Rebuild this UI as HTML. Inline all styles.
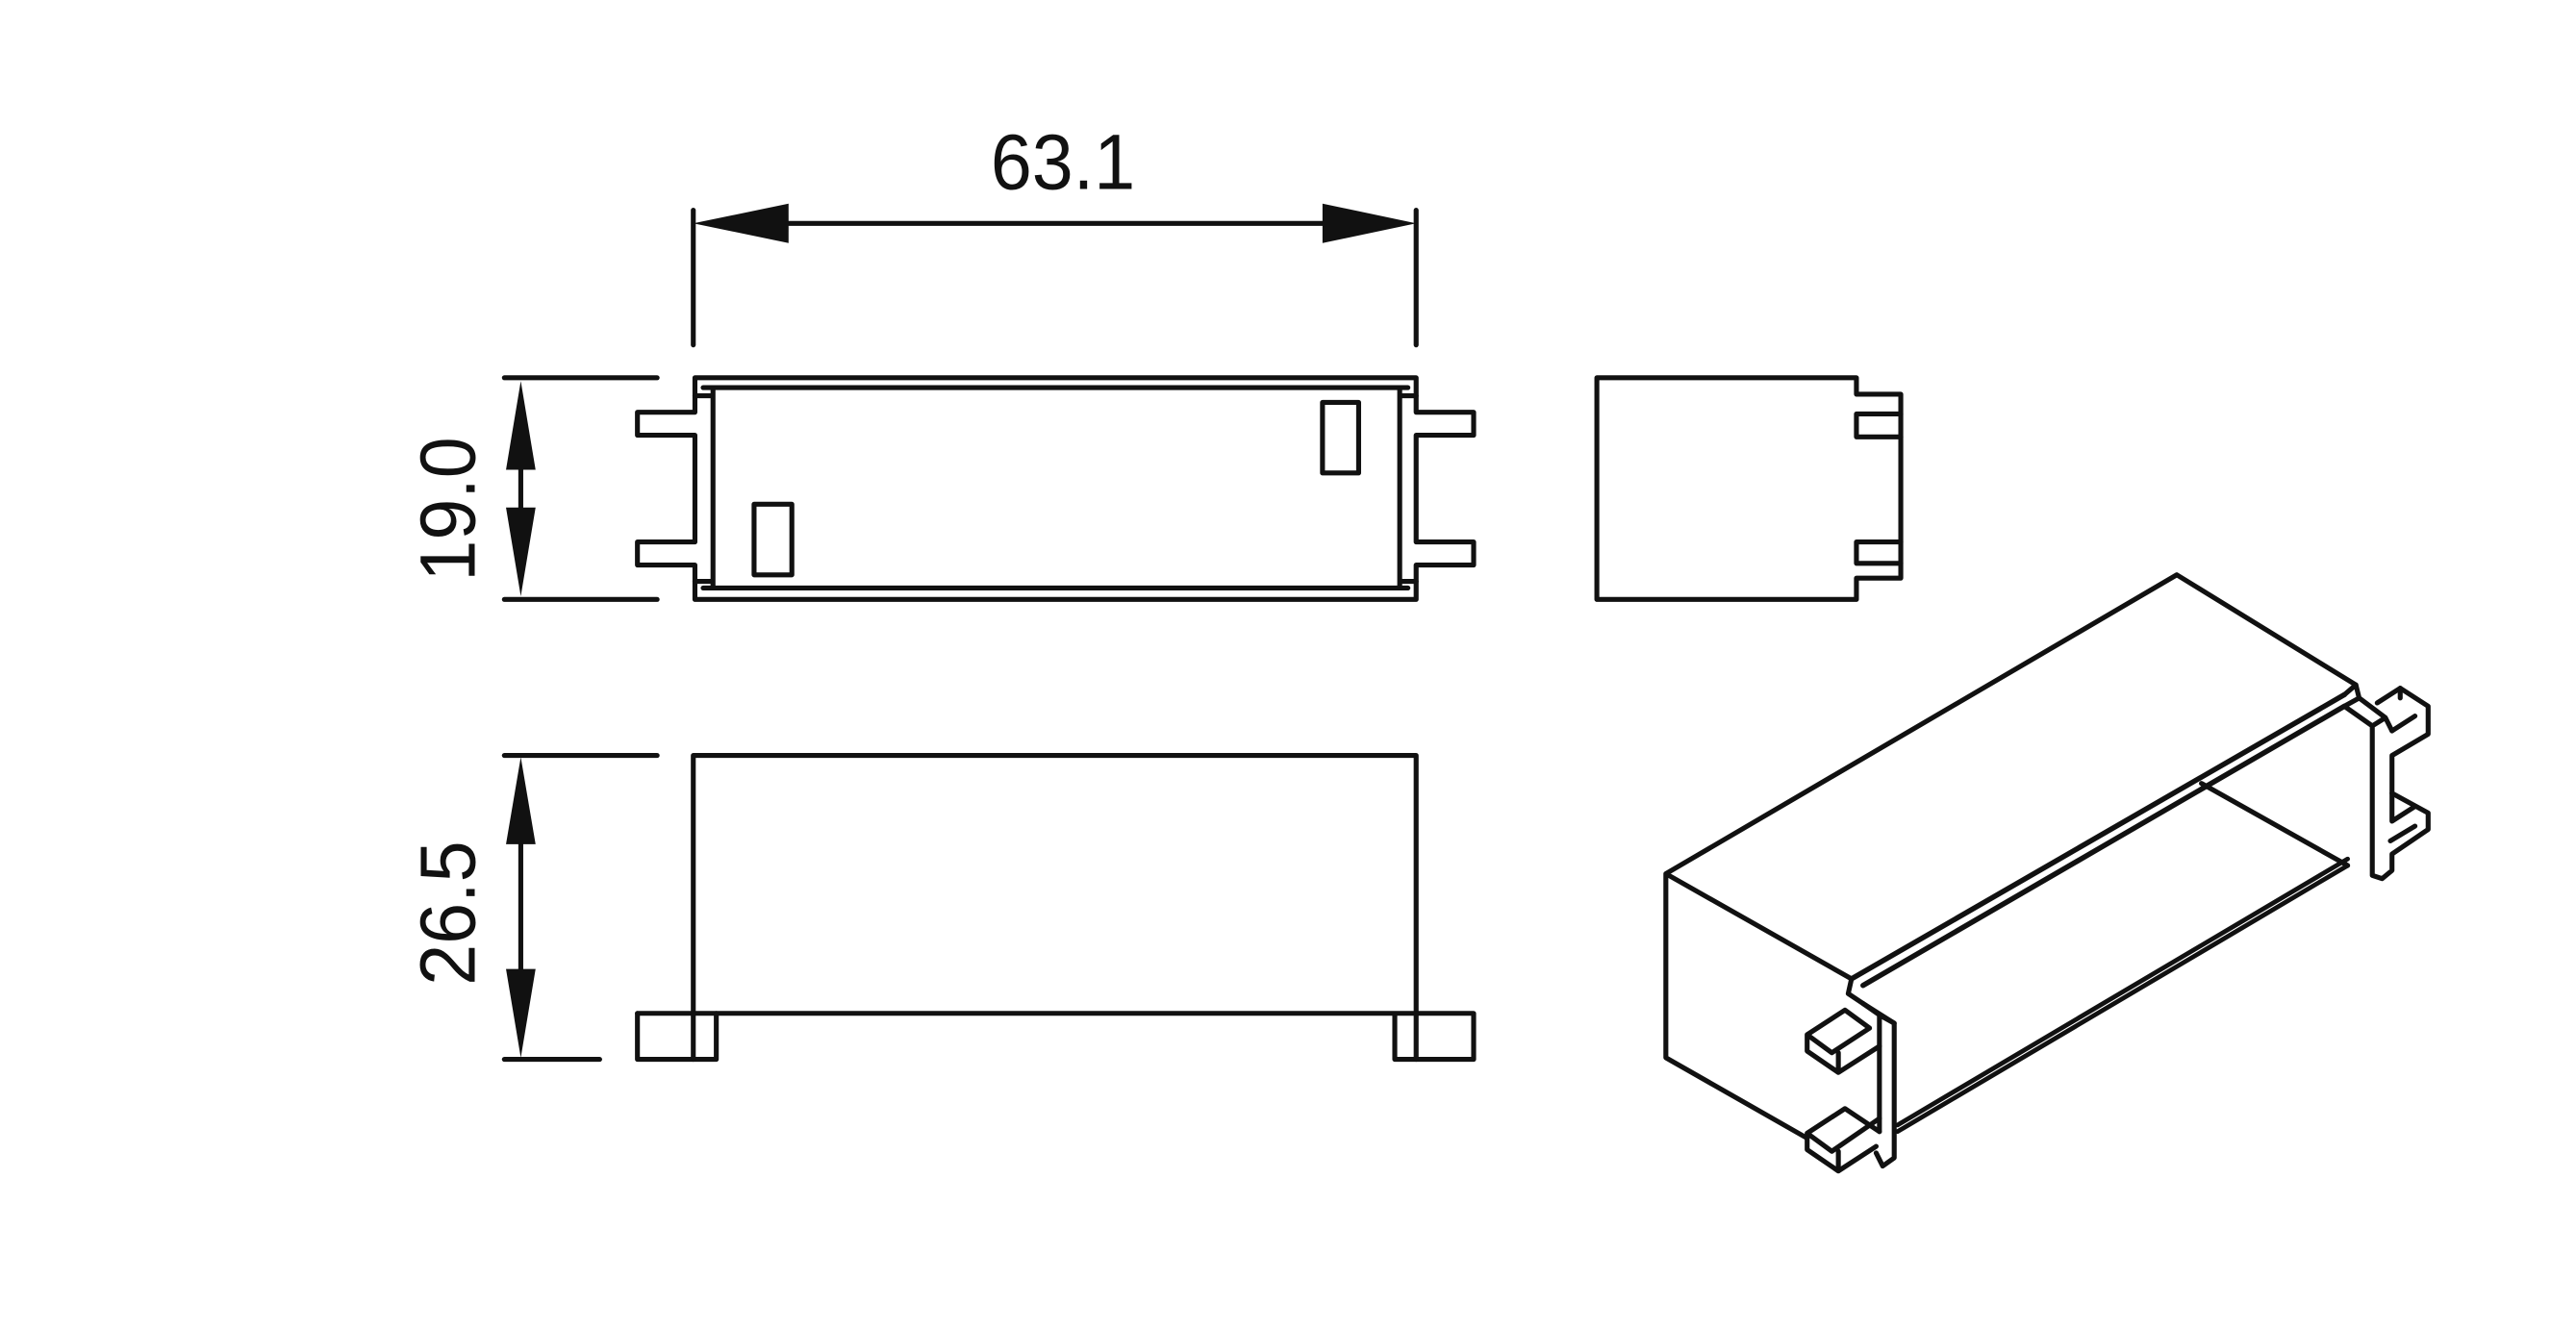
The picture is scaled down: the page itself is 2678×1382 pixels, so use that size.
<!DOCTYPE html>
<html><head><meta charset="utf-8"><style>
html,body{margin:0;padding:0;background:#fff;width:2678px;height:1382px;overflow:hidden}
svg{display:block}
text{font-family:"Liberation Sans",sans-serif;fill:#111}
</style></head><body>
<svg width="2678" height="1382" viewBox="0 0 1568 809.2" preserveAspectRatio="none">
<g fill="none" stroke="#111" stroke-width="3" stroke-linejoin="round" stroke-linecap="round">
<!-- 63.1 dimension -->
<line x1="422" y1="128" x2="422" y2="210"/>
<line x1="862" y1="128" x2="862" y2="210"/>
<line x1="470" y1="136" x2="815" y2="136"/>
<!-- 19.0 dimension -->
<line x1="307" y1="230" x2="400" y2="230"/>
<line x1="307" y1="365" x2="400" y2="365"/>
<line x1="317" y1="280" x2="317" y2="315"/>
<!-- 26.5 dimension -->
<line x1="307" y1="460" x2="400" y2="460"/>
<line x1="307" y1="645" x2="365" y2="645"/>
<line x1="317" y1="500" x2="317" y2="600"/>
<!-- top view -->
<path d="M423 230 H862 V251 H897 V265 H862 V330 H897 V344 H862 V365 H423 V344 H388 V330 H423 V265 H388 V251 H423 Z"/>
<path d="M428 236 H857 M428 358 H857 M434 236 V358 M852 236 V358 M423 241 H434 M423 354 H434 M852 241 H862 M852 354 H862"/>
<rect x="459" y="307" width="23" height="43"/>
<rect x="805" y="245" width="22" height="43"/>
<!-- side view -->
<path d="M972 230 H1130 V240 H1157 V352 H1130 V365 H972 Z"/>
<path d="M1157 252 H1130 V266 H1157 M1157 330 H1130 V343 H1157"/>
<!-- front view -->
<path d="M422 617 V460 H862 V617"/>
<path d="M388 617 H897 V645 H849 V617 M849 645 V617"/>
<path d="M388 617 V645 H436 V617"/>
<path d="M422 617 V645 M862 617 V645"/>
<!-- iso view -->
<path d="M1014 532 L1325 350 L1434 417 M1014 532 L1127 596 M1014 532 V644 L1100 693"/>
<path d="M1127 596 L1427 423 M1134 600 L1427 430" stroke-width="3.2"/>
<path d="M1155 689 L1429 527 M1155 685 L1429 523" stroke-width="2.8"/>
<path d="M1340 477 L1429 527"/>
<!-- front clip -->
<path d="M1127 596 L1125 605 L1134 611 L1153 623 V705 L1146 710 L1142 702"/>
<path d="M1134 611 L1144 618 L1144 640 M1144 640 V689 M1144 618 L1153 623"/>
<path d="M1100 630 L1123 615 L1138 626 L1115 641 Z M1100 630 V640 L1119 653 V641 M1119 653 L1144 637"/>
<path d="M1100 690 L1123 675 L1144 689 M1100 690 L1115 701 L1144 681 M1100 690 V700 L1119 713 L1142 698 M1119 713 V701"/>
<!-- back clip -->
<path d="M1427 423 L1434 417 L1436 425 L1427 430 M1427 430 L1444 442 V533 L1450 535 L1456 530 V520 L1478 505 V495 L1456 483 V460 L1478 447 V430 L1461 419 L1447 428 M1436 425 L1452 437 L1456 445 M1444 442 L1452 437"/>
<path d="M1456 445 L1470 436 M1455 512 L1470 503 M1456 483 V500 L1470 491 M1461 419 V425"/>
</g>
<g fill="#111" stroke="none">
<polygon points="422,136 480,124 480,148"/>
<polygon points="862,136 805,124 805,148"/>
<polygon points="317,232 308,286 326,286"/>
<polygon points="317,363 308,309 326,309"/>
<polygon points="317,461 308,514 326,514"/>
<polygon points="317,644 308,590 326,590"/>
</g>
<text x="647" y="115" font-size="48" text-anchor="middle" textLength="88" lengthAdjust="spacingAndGlyphs">63.1</text>
<text transform="translate(289,310) rotate(-90)" font-size="48" text-anchor="middle" textLength="88" lengthAdjust="spacingAndGlyphs">19.0</text>
<text transform="translate(289,556) rotate(-90)" font-size="48" text-anchor="middle" textLength="88" lengthAdjust="spacingAndGlyphs">26.5</text>
</svg>
</body></html>
